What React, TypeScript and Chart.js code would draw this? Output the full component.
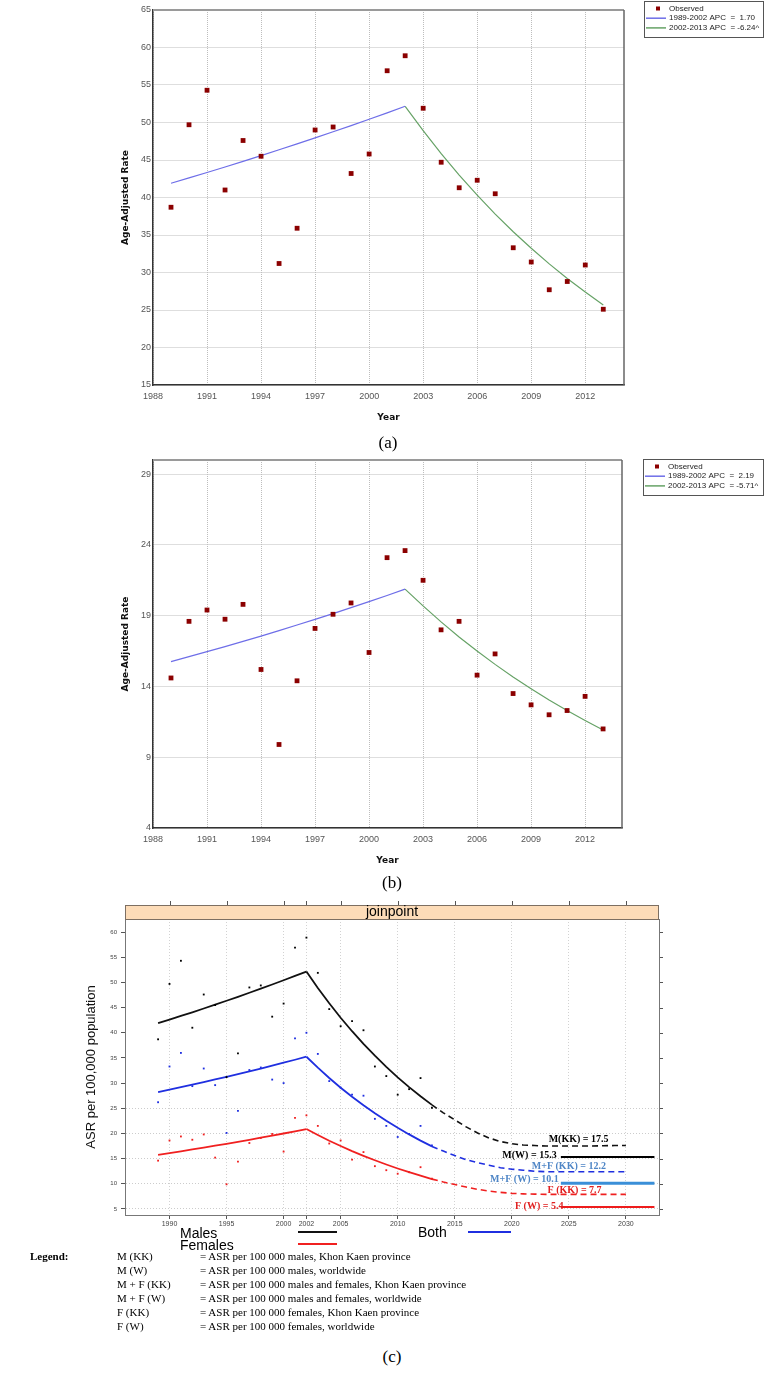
import React, { useEffect, useRef } from "react";
import { Chart, registerables } from "chart.js";

Chart.register(...registerables);

const SANS = '"Liberation Sans", Arial, sans-serif';
const VERD = '"DejaVu Sans", Verdana, sans-serif';
const SERIF = '"Liberation Serif", "Times New Roman", serif';

// ---------- data ----------
const years = [1989, 1990, 1991, 1992, 1993, 1994, 1995, 1996, 1997, 1998, 1999, 2000, 2001, 2002, 2003, 2004, 2005, 2006, 2007, 2008, 2009, 2010, 2011, 2012, 2013];
const seg1Years = [1989, 1990, 1991, 1992, 1993, 1994, 1995, 1996, 1997, 1998, 1999, 2000, 2001, 2002];
const seg2Years = [2002, 2003, 2004, 2005, 2006, 2007, 2008, 2009, 2010, 2011, 2012, 2013];
const projYears = [2013, 2014, 2015, 2016, 2017, 2018, 2019, 2020, 2021, 2022, 2023, 2024, 2025, 2026, 2027, 2028, 2029, 2030];
const worldYears = [2024.3, 2032.5];

const maleObserved = [38.7, 49.7, 54.3, 41.0, 47.6, 45.5, 31.2, 35.9, 49.0, 49.4, 43.2, 45.8, 56.9, 58.9, 51.9, 44.7, 41.3, 42.3, 40.5, 33.3, 31.4, 27.7, 28.8, 31.0, 25.1];
const femaleObserved = [14.6, 18.6, 19.4, 18.75, 19.8, 15.2, 9.9, 14.4, 18.1, 19.1, 19.9, 16.4, 23.1, 23.6, 21.5, 18.0, 18.6, 14.8, 16.3, 13.5, 12.7, 12.0, 12.3, 13.3, 11.0];
const bothObserved = [26.2, 33.3, 36.0, 29.4, 32.9, 29.6, 20.1, 24.5, 32.6, 33.1, 30.7, 30.0, 38.9, 40.0, 35.8, 30.4, 29.1, 27.7, 27.5, 22.9, 21.5, 19.3, 19.9, 21.5, 17.6];

const maleFit1 = [41.9, 42.61, 43.34, 44.07, 44.82, 45.58, 46.36, 47.15, 47.95, 48.76, 49.59, 50.43, 51.29, 52.16];
const maleFit2 = [52.16, 48.91, 45.85, 42.99, 40.31, 37.79, 35.44, 33.23, 31.15, 29.21, 27.39, 25.68];
const femaleFit1 = [15.76, 16.11, 16.46, 16.82, 17.18, 17.56, 17.94, 18.34, 18.74, 19.15, 19.57, 19.99, 20.43, 20.88];
const femaleFit2 = [20.88, 19.69, 18.56, 17.5, 16.5, 15.56, 14.67, 13.83, 13.04, 12.3, 11.6, 10.93];
const bothFit1 = [28.2, 28.69, 29.18, 29.69, 30.2, 30.72, 31.25, 31.79, 32.34, 32.9, 33.47, 34.05, 34.64, 35.24];
const bothFit2 = [35.24, 33.06, 31.01, 29.08, 27.28, 25.59, 24.0, 22.51, 21.12, 19.81, 18.58, 17.43];

const maleProj = [25.68, 24.1, 22.7, 21.3, 20.1, 19.1, 18.4, 17.95, 17.7, 17.6, 17.5, 17.5, 17.5, 17.5, 17.5, 17.55, 17.6, 17.6];
const bothProj = [17.43, 16.5, 15.6, 14.8, 14.2, 13.7, 13.2, 12.9, 12.7, 12.5, 12.4, 12.4, 12.4, 12.4, 12.4, 12.4, 12.4, 12.4];
const femaleProj = [10.93, 10.35, 9.85, 9.35, 8.9, 8.55, 8.3, 8.1, 8.0, 7.95, 7.9, 7.9, 7.9, 7.9, 7.9, 7.9, 7.9, 7.9];

const maleWorld = [15.3, 15.3];
const bothWorld = [10.1, 10.1];
const femaleWorld = [5.4, 5.4];

const xTicksAB = [1988, 1991, 1994, 1997, 2000, 2003, 2006, 2009, 2012];
const yTicksA = [15, 20, 25, 30, 35, 40, 45, 50, 55, 60, 65];
const yTicksB = [4, 9, 14, 19, 24, 29];
const xTicksC = [1990, 1995, 2000, 2002, 2005, 2010, 2015, 2020, 2025, 2030];
const yTicksC = [5, 10, 15, 20, 25, 30, 35, 40, 45, 50, 55, 60];

const legendA = ["Observed", "1989-2002 APC  =  1.70", "2002-2013 APC  = -6.24^"];
const legendB = ["Observed", "1989-2002 APC  =  2.19", "2002-2013 APC  = -5.71^"];

const projLabels = [
  { text: "M(KK) = 17.5", x: 2025.85, y: 18.9, color: "#000000" },
  { text: "M(W) = 15.3", x: 2021.55, y: 15.6, color: "#000000" },
  { text: "M+F (KK) = 12.2", x: 2025.0, y: 13.4, color: "#4f86c6" },
  { text: "M+F (W) = 10.1", x: 2021.1, y: 10.9, color: "#4f86c6" },
  { text: "F (KK) = 7.7", x: 2025.5, y: 8.75, color: "#e02020" },
  { text: "F (W) = 5.4", x: 2022.4, y: 5.57, color: "#e02020" },
];

const legendRows = [
  ["M (KK)", "= ASR per 100 000 males, Khon Kaen province"],
  ["M (W)", "= ASR per 100 000 males, worldwide"],
  ["M + F (KK)", "= ASR per 100 000 males and females, Khon Kaen province"],
  ["M + F (W)", "= ASR per 100 000 males and females, worldwide"],
  ["F (KK)", "= ASR per 100 000 females, Khon Kaen province"],
  ["F (W)", "= ASR per 100 000 females, worldwide"],
];

const pts = (xs: number[], ys: number[]) => xs.map((x, i) => ({ x, y: ys[i] }));

// ---------- panels (a) and (b) ----------
function apcLegend(box: { x: number; y: number; w: number; h: number }) {
  return {
    id: "apcLegend",
    afterDraw(chart: any) {
      const ctx = chart.ctx;
      ctx.save();
      ctx.fillStyle = "#ffffff";
      ctx.fillRect(box.x, box.y, box.w, box.h);
      ctx.strokeStyle = "#555555";
      ctx.lineWidth = 1;
      ctx.strokeRect(box.x + 0.5, box.y + 0.5, box.w, box.h);
      ctx.font = `8px ${SANS}`;
      ctx.textBaseline = "middle";
      ctx.textAlign = "left";
      chart.data.datasets.forEach((ds: any, i: number) => {
        const cy = box.y + 7.5 + i * 9.7;
        if (i === 0) {
          ctx.fillStyle = ds.pointBackgroundColor;
          ctx.fillRect(box.x + 12, cy - 2, 4, 4);
        } else {
          ctx.strokeStyle = ds.borderColor;
          ctx.lineWidth = 1.5;
          ctx.beginPath();
          ctx.moveTo(box.x + 2, cy);
          ctx.lineTo(box.x + 22, cy);
          ctx.stroke();
        }
        ctx.fillStyle = "#222222";
        ctx.fillText(ds.label, box.x + 25, cy);
      });
      ctx.restore();
    },
  };
}

const frameAB = {
  id: "frameAB",
  afterDraw(chart: any) {
    const { ctx, chartArea: ca } = chart;
    ctx.save();
    ctx.strokeStyle = "#9a9a9a";
    ctx.lineWidth = 2;
    ctx.beginPath();
    ctx.moveTo(ca.left, ca.top);
    ctx.lineTo(ca.right, ca.top);
    ctx.stroke();
    ctx.strokeStyle = "#666666";
    ctx.lineWidth = 1.5;
    ctx.beginPath();
    ctx.moveTo(ca.right, ca.top);
    ctx.lineTo(ca.right, ca.bottom);
    ctx.stroke();
    ctx.restore();
  },
};

function makeApcChart(
  canvas: HTMLCanvasElement,
  cfg: {
    observed: number[];
    fit1: number[];
    fit2: number[];
    labels: string[];
    yMin: number;
    yMax: number;
    yTicks: number[];
    xMax: number;
    padding: { left: number; right: number; top: number; bottom: number };
    legendBox: { x: number; y: number; w: number; h: number };
  }
) {
  return new Chart(canvas, {
    type: "scatter",
    data: {
      datasets: [
        {
          type: "scatter",
          label: cfg.labels[0],
          data: pts(years, cfg.observed),
          pointStyle: "rect",
          pointRadius: 3.4,
          pointBackgroundColor: "#8b0000",
          pointBorderWidth: 0,
          backgroundColor: "#8b0000",
          borderColor: "#8b0000",
        } as any,
        {
          type: "line",
          label: cfg.labels[1],
          data: pts(seg1Years, cfg.fit1),
          borderColor: "#6e6ee8",
          borderWidth: 1.2,
          pointRadius: 0,
          fill: false,
          tension: 0,
        },
        {
          type: "line",
          label: cfg.labels[2],
          data: pts(seg2Years, cfg.fit2),
          borderColor: "#66a266",
          borderWidth: 1.2,
          pointRadius: 0,
          fill: false,
          tension: 0,
        },
      ],
    },
    options: {
      animation: false,
      responsive: false,
      maintainAspectRatio: false,
      layout: { padding: cfg.padding },
      plugins: { legend: { display: false }, tooltip: { enabled: false } },
      scales: {
        x: {
          type: "linear",
          min: 1988,
          max: cfg.xMax,
          afterBuildTicks: (s: any) => {
            s.ticks = xTicksAB.map((v) => ({ value: v }));
          },
          afterFit: (s: any) => {
            s.height = 40;
          },
          ticks: {
            autoSkip: false,
            maxRotation: 0,
            padding: 6,
            color: "#555555",
            font: { family: SANS, size: 9 },
            callback: (v: any) => String(v),
          },
          grid: { color: "#bdbdbd", drawTicks: false, lineWidth: 1 },
          border: { color: "#333333", width: 1.5, dash: [1, 1] },
          title: {
            display: true,
            text: "Year",
            color: "#111111",
            font: { family: VERD, size: 9, weight: "bold" },
            padding: { top: 0, bottom: 2 },
          },
        },
        y: {
          type: "linear",
          min: cfg.yMin,
          max: cfg.yMax,
          afterBuildTicks: (s: any) => {
            s.ticks = cfg.yTicks.map((v) => ({ value: v }));
          },
          afterFit: (s: any) => {
            s.width = 40;
          },
          ticks: {
            padding: 2,
            color: "#555555",
            font: { family: SANS, size: 9 },
            callback: (v: any) => String(v),
          },
          grid: { color: "#bdbdbd", drawTicks: false, lineWidth: 1 },
          border: { color: "#333333", width: 1.5, dash: [1, 1] },
          title: {
            display: true,
            text: "Age-Adjusted Rate",
            color: "#111111",
            font: { family: VERD, size: 9, weight: "bold" },
            padding: { top: 7, bottom: 0 },
          },
        },
      },
    } as any,
    plugins: [frameAB, apcLegend(cfg.legendBox)],
  });
}

// ---------- panel (c) ----------
const panelCDecor = {
  id: "panelCDecor",
  afterDraw(chart: any) {
    const { ctx, chartArea: ca, scales } = chart;
    const xs = scales.x;
    const ys = scales.y;
    const stripH = 14;
    ctx.save();
    ctx.fillStyle = "#fddcb8";
    ctx.fillRect(ca.left, ca.top - stripH, ca.right - ca.left, stripH);
    ctx.strokeStyle = "#7d6f62";
    ctx.lineWidth = 1;
    ctx.strokeRect(ca.left + 0.5, ca.top - stripH + 0.5, ca.right - ca.left - 1, stripH);
    ctx.fillStyle = "#000000";
    ctx.font = `14px ${SANS}`;
    ctx.textAlign = "center";
    ctx.textBaseline = "middle";
    ctx.fillText("joinpoint", (ca.left + ca.right) / 2, ca.top - stripH / 2);

    ctx.strokeStyle = "#555555";
    ctx.lineWidth = 1;
    ctx.beginPath();
    for (const t of xs.ticks) {
      const px = Math.round(xs.getPixelForValue(t.value)) + 0.5;
      ctx.moveTo(px, ca.top - stripH);
      ctx.lineTo(px, ca.top - stripH - 4);
    }
    for (const t of ys.ticks) {
      const py = Math.round(ys.getPixelForValue(t.value)) + 0.5;
      ctx.moveTo(ca.right, py);
      ctx.lineTo(ca.right + 4, py);
    }
    ctx.stroke();

    ctx.strokeStyle = "#777777";
    ctx.beginPath();
    ctx.moveTo(ca.right + 0.5, ca.top);
    ctx.lineTo(ca.right + 0.5, ca.bottom);
    ctx.stroke();

    ctx.font = `bold 10px ${SERIF}`;
    for (const l of projLabels) {
      ctx.fillStyle = l.color;
      ctx.fillText(l.text, xs.getPixelForValue(l.x), ys.getPixelForValue(l.y));
    }
    ctx.restore();
  },
};

function lineDs(data: any[], color: string, width: number, dash?: number[]) {
  return {
    type: "line",
    data,
    borderColor: color,
    borderWidth: width,
    borderDash: dash || [],
    pointRadius: 0,
    fill: false,
    tension: 0,
  } as any;
}

function dotDs(data: any[], color: string) {
  return {
    type: "scatter",
    data,
    pointStyle: "rect",
    pointRadius: 1.3,
    pointBackgroundColor: color,
    pointBorderWidth: 0,
    backgroundColor: color,
    borderColor: color,
  } as any;
}

function makePanelC(canvas: HTMLCanvasElement) {
  const BLACK = "#111111";
  const BLUE = "#1f2fe0";
  const RED = "#f02020";
  return new Chart(canvas, {
    type: "scatter",
    data: {
      datasets: [
        dotDs(pts(years, maleObserved), "#000000"),
        dotDs(pts(years, bothObserved), BLUE),
        dotDs(pts(years, femaleObserved), RED),
        lineDs(pts(seg1Years, maleFit1), BLACK, 1.8),
        lineDs(pts(seg2Years, maleFit2), BLACK, 1.8),
        lineDs(pts(seg1Years, bothFit1), BLUE, 1.8),
        lineDs(pts(seg2Years, bothFit2), BLUE, 1.8),
        lineDs(pts(seg1Years, femaleFit1), RED, 1.8),
        lineDs(pts(seg2Years, femaleFit2), RED, 1.8),
        lineDs(pts(projYears, maleProj), BLACK, 1.6, [6, 4]),
        lineDs(pts(projYears, bothProj), BLUE, 1.6, [6, 4]),
        lineDs(pts(projYears, femaleProj), RED, 1.6, [6, 4]),
        lineDs(pts(worldYears, maleWorld), "#000000", 2),
        lineDs(pts(worldYears, bothWorld), "#3a8fd8", 3),
        lineDs(pts(worldYears, femaleWorld), "#ee1c1c", 2),
      ],
    },
    options: {
      animation: false,
      responsive: false,
      maintainAspectRatio: false,
      layout: { padding: { left: 80, right: 107, top: 24, bottom: 5 } },
      plugins: { legend: { display: false }, tooltip: { enabled: false } },
      scales: {
        x: {
          type: "linear",
          min: 1986.1,
          max: 2032.9,
          afterBuildTicks: (s: any) => {
            s.ticks = xTicksC.map((v) => ({ value: v }));
          },
          afterFit: (s: any) => {
            s.height = 15;
          },
          ticks: {
            autoSkip: false,
            maxRotation: 0,
            padding: 1,
            color: "#444444",
            font: { family: SANS, size: 7 },
            callback: (v: any) => String(v),
          },
          grid: { color: "#d2d2d2", tickColor: "#555555", tickLength: 4, lineWidth: 1 },
          border: { color: "#777777", width: 1, dash: [1, 2] },
        },
        y: {
          type: "linear",
          min: 3.8,
          max: 62.6,
          afterBuildTicks: (s: any) => {
            s.ticks = yTicksC.map((v) => ({ value: v }));
          },
          afterFit: (s: any) => {
            s.width = 45;
          },
          ticks: {
            padding: 4,
            color: "#444444",
            font: { family: SANS, size: 6 },
            callback: (v: any) => String(v),
          },
          grid: {
            color: (c: any) => (c.tick && c.tick.value <= 25 ? "#cccccc" : "rgba(0,0,0,0)"),
            tickColor: "#555555",
            tickLength: 4,
            lineWidth: 1,
          },
          border: { color: "#777777", width: 1, dash: [1, 2] },
          title: {
            display: true,
            text: "ASR per 100,000 population",
            color: "#111111",
            font: { family: SANS, size: 13 },
            padding: { top: 4, bottom: 0 },
          },
        },
      },
    } as any,
    plugins: [panelCDecor],
  });
}

// ---------- component ----------
export default function App() {
  const refA = useRef<HTMLCanvasElement>(null);
  const refB = useRef<HTMLCanvasElement>(null);
  const refC = useRef<HTMLCanvasElement>(null);

  useEffect(() => {
    const a = makeApcChart(refA.current!, {
      observed: maleObserved,
      fit1: maleFit1,
      fit2: maleFit2,
      labels: legendA,
      yMin: 15,
      yMax: 65,
      yTicks: yTicksA,
      xMax: 2014.15,
      padding: { left: 113, right: 142, top: 10, bottom: 7 },
      legendBox: { x: 644, y: 1, w: 119, h: 36 },
    });
    const b = makeApcChart(refB.current!, {
      observed: femaleObserved,
      fit1: femaleFit1,
      fit2: femaleFit2,
      labels: legendB,
      yMin: 4,
      yMax: 30,
      yTicks: yTicksB,
      xMax: 2014.05,
      padding: { left: 113, right: 144, top: 10, bottom: 7 },
      legendBox: { x: 643, y: 9, w: 120, h: 36 },
    });
    const c = makePanelC(refC.current!);
    return () => {
      a.destroy();
      b.destroy();
      c.destroy();
    };
  }, []);

  const abs = (o: React.CSSProperties): React.CSSProperties => ({ position: "absolute", ...o });
  const caption: React.CSSProperties = {
    fontFamily: SERIF,
    fontSize: 17,
    lineHeight: "20px",
    width: 776,
    textAlign: "center",
    color: "#000",
  };
  const legText: React.CSSProperties = { fontFamily: SANS, fontSize: 14, lineHeight: "16px", color: "#000" };
  const defText: React.CSSProperties = { fontFamily: SERIF, fontSize: 11, lineHeight: "14px", color: "#000", whiteSpace: "nowrap" };

  return (
    <div style={abs({ left: 0, top: 0, width: 766, height: 1375, background: "#ffffff", overflow: "hidden" })}>
      <canvas ref={refA} width={766} height={432} style={abs({ left: 0, top: 0, width: 766, height: 432 })} />
      <canvas ref={refB} width={766} height={425} style={abs({ left: 0, top: 450, width: 766, height: 425 })} />
      <canvas ref={refC} width={766} height={340} style={abs({ left: 0, top: 895, width: 766, height: 340 })} />

      <div style={abs({ left: 0, top: 433, ...caption })}>(a)</div>
      <div style={abs({ left: 4, top: 873, ...caption })}>(b)</div>
      <div style={abs({ left: 4, top: 1347, ...caption })}>(c)</div>

      <div style={abs({ left: 180, top: 1225, ...legText })}>Males</div>
      <div style={abs({ left: 298, top: 1231, width: 39, height: 2, background: "#111111" })} />
      <div style={abs({ left: 418, top: 1224, ...legText })}>Both</div>
      <div style={abs({ left: 468, top: 1231, width: 43, height: 2, background: "#1f2fe0" })} />
      <div style={abs({ left: 180, top: 1237, ...legText })}>Females</div>
      <div style={abs({ left: 298, top: 1243, width: 39, height: 2, background: "#f02020" })} />

      <div style={abs({ left: 30, top: 1249, ...defText, fontWeight: "bold" })}>Legend:</div>
      {legendRows.map((r, i) => (
        <React.Fragment key={r[0]}>
          <div style={abs({ left: 117, top: 1249 + i * 14, ...defText })}>{r[0]}</div>
          <div style={abs({ left: 200, top: 1249 + i * 14, ...defText })}>{r[1]}</div>
        </React.Fragment>
      ))}
    </div>
  );
}
